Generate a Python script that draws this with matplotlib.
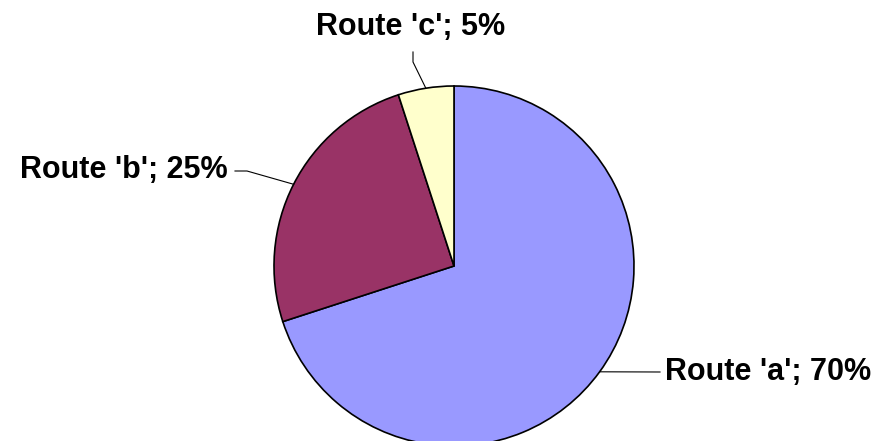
import numpy as np
import matplotlib

matplotlib.use("Agg")
import matplotlib.pyplot as plt

routes = ["Route 'a'", "Route 'b'", "Route 'c'"]
shares = [70, 25, 5]
colors = ["#9999FF", "#993366", "#FFFFCC"]

W, H = 881, 441
CX, CY, R = 454, 441 - 266, 180

fig = plt.figure(figsize=(W / 100, H / 100), dpi=100)
ax = fig.add_axes([0, 0, 1, 1])

wedges, _ = ax.pie(
    shares,
    colors=colors,
    startangle=90,
    counterclock=False,
    center=(CX, CY),
    radius=R,
    wedgeprops=dict(edgecolor="black", linewidth=1.2),
    frame=True,
)
ax.set_xlim(0, W)
ax.set_ylim(0, H)
ax.set_aspect("equal")
ax.axis("off")

# label placement: (leader points in pixel coords from top, text pos, ha)
label_layout = {
    "Route 'a'": ([(660, 372)], (665, 372), "left"),
    "Route 'b'": ([(247, 171), (235, 171)], (228, 170), "right"),
    "Route 'c'": ([(413, 62), (413, 52)], (411, 27), "center"),
}

for w, name, share in zip(wedges, routes, shares):
    mid = np.deg2rad((w.theta1 + w.theta2) / 2)
    x0 = CX + R * np.cos(mid)
    y0 = CY + R * np.sin(mid)
    pts, (tx, ty), ha = label_layout[name]
    xs = [x0] + [p[0] for p in pts]
    ys = [y0] + [H - p[1] for p in pts]
    ax.plot(xs, ys, color="black", linewidth=0.8)
    ax.text(tx, H - ty, f"{name}; {share}%", ha=ha, va="center",
            fontsize=22, fontweight="bold", family="Liberation Sans")

fig.savefig("out.png", dpi=100)
